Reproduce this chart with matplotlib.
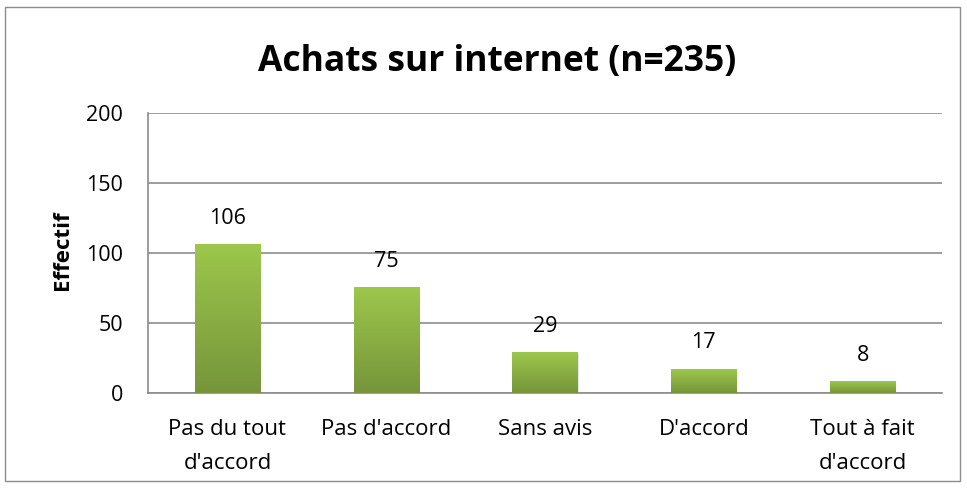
import numpy as np
import matplotlib
matplotlib.use("Agg")
import matplotlib.pyplot as plt
from matplotlib.colors import LinearSegmentedColormap
from matplotlib.patches import Rectangle

categories = ["Pas du tout\nd'accord", "Pas d'accord", "Sans avis", "D'accord", "Tout à fait\nd'accord"]
values = [106, 75, 29, 17, 8]
title = "Achats sur internet (n=235)"
ylabel = "Effectif"
yticks = [0, 50, 100, 150, 200]

plt.rcParams['font.family'] = ['Open Sans', 'DejaVu Sans']

fig = plt.figure(figsize=(9.67, 4.88), dpi=100)
ax = fig.add_axes([148 / 967, 1 - 393 / 488, (942 - 148) / 967, (393 - 113) / 488])

# chart border
fig.patches.append(Rectangle((5 / 967, 1 - 481 / 488), 955 / 967, 474 / 488,
                             transform=fig.transFigure, fill=False,
                             edgecolor="#8c8c8c", linewidth=1.0))

cmap = LinearSegmentedColormap.from_list("grn", ["#76953a", "#9dc74c"])
grad = np.linspace(0, 1, 256).reshape(-1, 1)
width = 0.41
x = np.arange(len(categories))

for xi, v in zip(x, values):
    # faint shadow
    ax.add_patch(Rectangle((xi - width / 2 + 0.006, -1.0), width, v + 0.4,
                           facecolor="#d0d0d0", edgecolor="none", alpha=0.5, zorder=2))
    ax.imshow(grad, cmap=cmap, origin="lower", aspect="auto",
              extent=[xi - width / 2, xi + width / 2, 0, v], zorder=3)
    ax.annotate(str(v), (xi, v), xytext=(0, 19), textcoords="offset points",
                ha="center", va="center", fontsize=15.5, color="black")

ax.set_xlim(-0.5, len(categories) - 0.5)
ax.set_ylim(0, 200)
ax.set_yticks(yticks)
ax.set_xticks(x)
ax.set_xticklabels(categories, fontsize=16, linespacing=1.8, va="top")
ax.tick_params(axis="x", length=0, pad=19)
ax.tick_params(axis="y", length=0, pad=18, labelsize=15.5)

ax.yaxis.grid(True, color="#8c8c8c", linewidth=1.2, zorder=1)
ax.set_axisbelow(True)
for s in ["top", "right"]:
    ax.spines[s].set_visible(False)
ax.spines["left"].set_color("#8c8c8c")
ax.spines["bottom"].set_color("#8c8c8c")
ax.spines["left"].set_linewidth(1.2)
ax.spines["bottom"].set_linewidth(1.2)

ax.set_ylabel(ylabel, fontsize=16, fontweight="bold")
ax.yaxis.set_label_coords(-0.095, 0.51)
fig.text(497 / 967, 1 - 62 / 488, title, ha="center", va="center",
         fontsize=25.5, fontweight="bold")

fig.savefig("out.png", dpi=100)
